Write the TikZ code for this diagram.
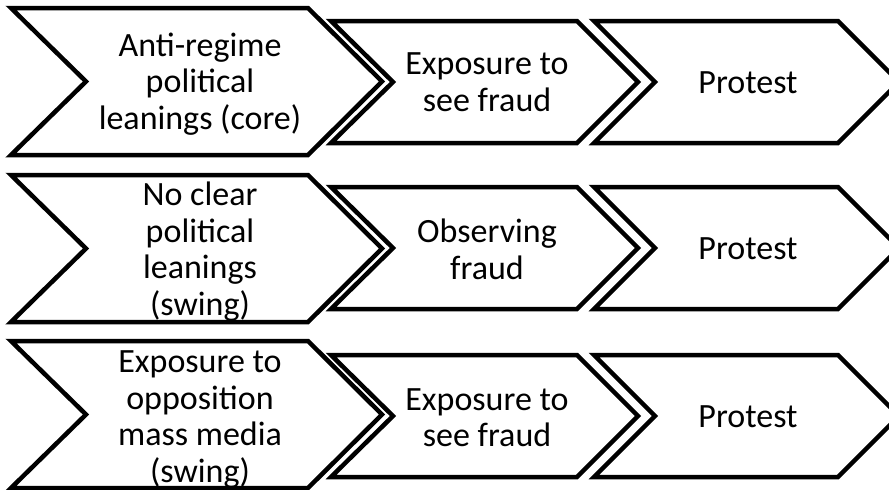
\documentclass[tikz,border=0pt]{standalone}
\usepackage{fontspec}
\setmainfont{Carlito}
\newcommand\chevshape[6]{% x1, notch, xr, tip, yc, hh
  \filldraw[chev] (#1,#5-#6) -- (#3,#5-#6) -- (#4,#5) -- (#3,#5+#6) -- (#1,#5+#6) -- (#2,#5) -- cycle;}
\begin{document}
\begin{tikzpicture}[x=1pt,y=-1pt,
  chev/.style={draw=black,fill=white,line width=4.5pt,line join=miter,miter limit=10},
  lbl/.style={anchor=base,align=center,inner sep=0pt,font=\fontsize{34}{36.5}\selectfont,text=black}]
\useasboundingbox (0,0) rectangle (889,490);
\clip (0,0) rectangle (889,490);
% row 1
\chevshape{11}{86}{308}{382}{81.5}{73.5}
\chevshape{331}{393}{577}{638}{82}{61}
\chevshape{594}{655}{838}{899}{82}{61}
% row 2
\chevshape{11}{86}{308}{382}{248.5}{73.5}
\chevshape{331}{393}{577}{638}{248}{61}
\chevshape{594}{655}{838}{899}{248}{61}
% row 3
\chevshape{11}{86}{308}{382}{414.5}{73.5}
\chevshape{331}{393}{577}{638}{416}{61}
\chevshape{594}{655}{838}{899}{416}{61}
% texts (anchor base = baseline of the last line)
\node[lbl] (a1) at (200,129) {Anti-regime\\political\\leanings (core)};
\node[lbl] (b1) at (487,111) {Exposure to\\see fraud};
\node[lbl] (c1) at (748,93) {Protest};
\node[lbl] (a2) at (200,315) {No clear\\political\\leanings\\(swing)};
\node[lbl] (b2) at (487,279) {Observing\\fraud};
\node[lbl] (c2) at (748,259.5) {Protest};
\node[lbl] (a3) at (200,482) {Exposure to\\opposition\\mass media\\(swing)};
\node[lbl] (b3) at (487,446.5) {Exposure to\\see fraud};
\node[lbl] (c3) at (748,427) {Protest};
\end{tikzpicture}
\end{document}
